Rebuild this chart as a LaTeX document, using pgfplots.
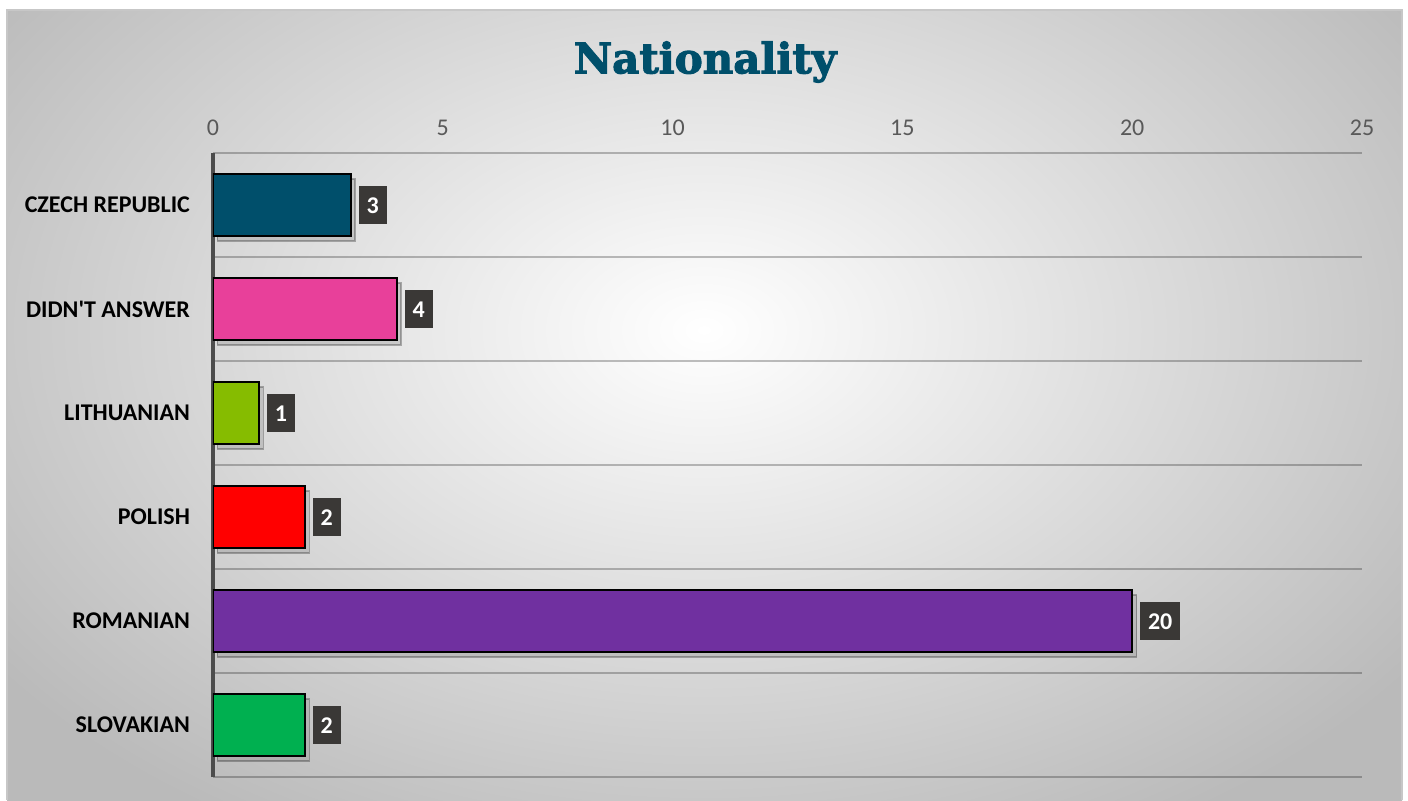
\documentclass[border=0pt]{standalone}
\usepackage{pgfplots}
\pgfplotsset{compat=1.18}
\usepackage{fontspec}
\setmainfont{Carlito}[Ligatures=TeXOff]
\newfontfamily\titlefont{DejaVu Serif}[BoldFeatures={FakeBold=2.5}]
\usetikzlibrary{shadows}

\definecolor{titleblue}{HTML}{004F6B}
\definecolor{czech}{HTML}{004F6B}
\definecolor{noanswer}{HTML}{E8409A}
\definecolor{lith}{HTML}{86BC00}
\definecolor{polish}{HTML}{FF0000}
\definecolor{romanian}{HTML}{7030A0}
\definecolor{slovak}{HTML}{00B050}
\definecolor{labelbg}{HTML}{3A3836}
\definecolor{tickgray}{HTML}{595959}

\pgfplotsset{barshadow/.style={draw=black, line width=0.8pt, bar shift=0pt,
    drop shadow={shadow xshift=2.2pt, shadow yshift=-2.5pt, opacity=0.28}}}

\begin{document}
\begin{tikzpicture}
\useasboundingbox (0pt,0pt) rectangle (704pt,400pt);
\begin{scope}
  \clip (3.5pt,0pt) rectangle (701pt,395pt);
  \shade[inner color=white, outer color=black!27] (-84pt,-55pt) rectangle (788pt,525pt);
\end{scope}
\draw[black!22, line width=0.6pt] (3.5pt,0pt) -- (3.5pt,395pt) -- (701pt,395pt) -- (701pt,0pt);
\node[font=\titlefont\bfseries\fontsize{21}{25}\selectfont, text=titleblue] at (352.5pt,369pt) {Nationality};
\begin{axis}[
    at={(106.5pt,11.5pt)}, anchor=south west,
    scale only axis,
    width=574.5pt, height=312pt,
    xbar, bar width=31pt,
    xmin=0, xmax=25,
    ymin=-0.5, ymax=5.5,
    xtick={0,5,...,25},
    xticklabel pos=upper,
    xticklabel style={text=tickgray, font=\fontsize{12}{14}\selectfont, yshift=5pt},
    /pgf/number format/assume math mode=true,
    ytick={0,1,2,3,4,5},
    yticklabels={SLOVAKIAN, ROMANIAN, POLISH, LITHUANIAN, DIDN'T ANSWER, CZECH REPUBLIC},
    yticklabel style={font=\bfseries\fontsize{12}{14}\selectfont, xshift=-8pt},
    minor ytick={-0.5,0.5,...,5.5},
    yminorgrids=true,
    minor grid style={black, draw opacity=0.25, line width=0.8pt},
    major tick length=0pt, minor tick length=0pt,
    axis line style={draw=none},
    extra x ticks={0},
    extra x tick labels={},
    extra x tick style={grid=major, major grid style={black!70, line width=1.6pt}},
    point meta=x,
    nodes near coords,
    every node near coord/.append style={fill=labelbg, draw=none, text=white, anchor=west,
        font=\bfseries\fontsize{12}{14}\selectfont, text height=8pt, text depth=0pt,
        inner xsep=4pt, inner ysep=5.3pt, xshift=3.5pt},
  ]
  \addplot[fill=czech, barshadow] coordinates {(3,5)};
  \addplot[fill=noanswer, barshadow] coordinates {(4,4)};
  \addplot[fill=lith, barshadow] coordinates {(1,3)};
  \addplot[fill=polish, barshadow] coordinates {(2,2)};
  \addplot[fill=romanian, barshadow] coordinates {(20,1)};
  \addplot[fill=slovak, barshadow] coordinates {(2,0)};
\end{axis}
\end{tikzpicture}
\end{document}
